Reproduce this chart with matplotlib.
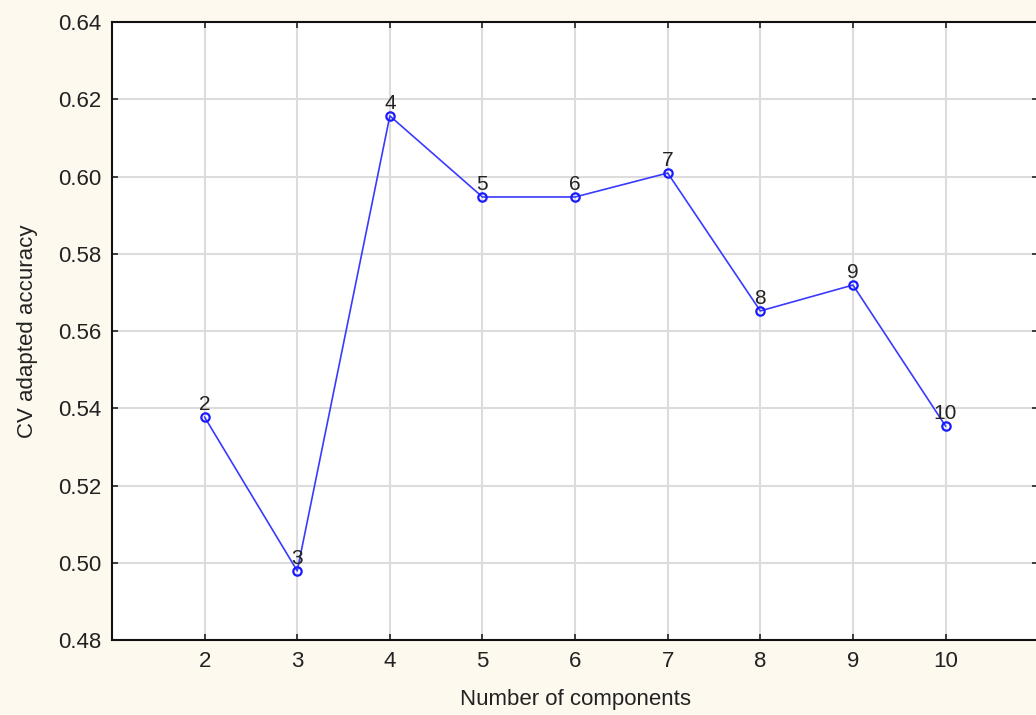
import matplotlib.pyplot as plt

plt.rcParams['font.family'] = ['Liberation Sans', 'DejaVu Sans']

components = [2, 3, 4, 5, 6, 7, 8, 9, 10]
accuracy = [0.5377, 0.4979, 0.6157, 0.5947, 0.5947, 0.6009, 0.5652, 0.5719, 0.5354]
y_ticks = [0.48, 0.50, 0.52, 0.54, 0.56, 0.58, 0.60, 0.62, 0.64]

fig = plt.figure(figsize=(10.36, 7.15), dpi=100, facecolor='#fef9ee')
ax = fig.add_axes([0.1081, 0.1049, 0.894, 0.8643])
ax.set_facecolor('white')

ax.plot(components, accuracy, color='#3a3aff', lw=1.2, marker='o', ms=6,
        mfc='none', mec='#1a1aff', mew=1.6, zorder=3)
for c, a in zip(components, accuracy):
    ax.annotate(str(c), (c, a), xytext=(0, 2), textcoords='offset points',
                ha='center', va='bottom', fontsize=15, color='#222222', zorder=4)

ax.set_xlim(1, 11)
ax.set_ylim(0.48, 0.64)
ax.set_xticks(components)
ax.set_yticks(y_ticks)
ax.set_yticklabels([f'{v:.2f}' for v in y_ticks])
ax.tick_params(direction='in', length=4, width=1.2, labelsize=16, pad=8,
               colors='#222222', top=True, right=True)
ax.grid(True, color='#dcdcdc', lw=1.5)
ax.set_axisbelow(True)
for s in ax.spines.values():
    s.set_linewidth(1.5)
    s.set_color('#111111')

ax.set_xlabel('Number of components', fontsize=16, color='#222222', labelpad=12)
ax.set_ylabel('CV adapted accuracy', fontsize=16, color='#222222', labelpad=14)

fig.savefig('out.png', dpi=100, facecolor=fig.get_facecolor())
